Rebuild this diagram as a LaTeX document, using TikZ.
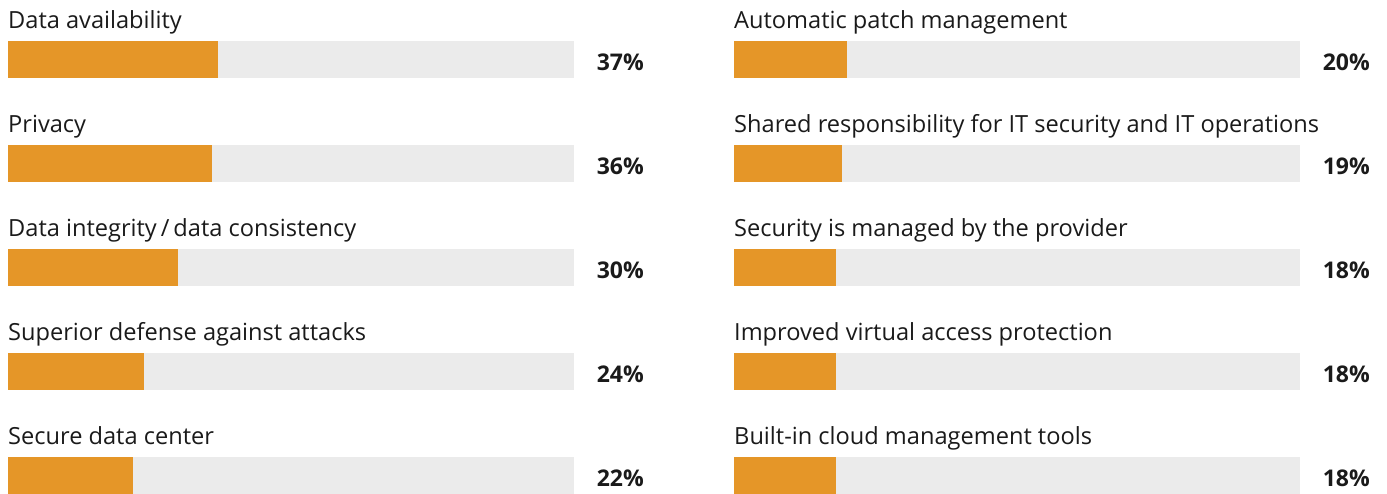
\documentclass[tikz,border=0pt]{standalone}
\usepackage{fontspec}
\setmainfont{Open Sans}
\definecolor{barfill}{HTML}{E59628}
\definecolor{track}{HTML}{EBEBEB}
\definecolor{ink}{HTML}{1A1A1A}
\begin{document}
\begin{tikzpicture}[x=1pt,y=-1pt,
  itemlabel/.style={anchor=base west, inner sep=0pt, text=ink,
    font=\fontsize{23.6}{26}\selectfont},
  pctlabel/.style={anchor=base east, inner sep=0pt, text=ink,
    font=\fontsize{23}{26}\selectfont\bfseries},
  trackbar/.style={fill=track},
  valuebar/.style={fill=barfill}]
\useasboundingbox (0,0) rectangle (1387,493);
% left column: bars start at x=8, percentages end at x=644
\foreach \i/\lab/\v in {0/{Data availability}/37, 1/{Privacy}/36,
    2/{Data integrity\,/\,data consistency}/30,
    3/{Superior defense against attacks}/24, 4/{Secure data center}/22}{
  \pgfmathsetmacro{\yb}{28+104*\i}
  \pgfmathsetmacro{\yt}{41+104*\i}
  \pgfmathsetmacro{\yp}{70+104*\i}
  \node[itemlabel] (Llab\i) at (8,\yb) {\lab};
  \fill[trackbar] (8,\yt) rectangle ++(566,37);
  \fill[valuebar] (8,\yt) rectangle ++(5.67*\v,37);
  \node[pctlabel] (Lpct\i) at (644,\yp) {\v\%};
}
% right column: bars start at x=734, percentages end at x=1370
\foreach \i/\lab/\v in {0/{Automatic patch management}/20,
    1/{Shared responsibility for IT security and IT operations}/19,
    2/{Security is managed by the provider}/18,
    3/{Improved virtual access protection}/18,
    4/{Built-in cloud management tools}/18}{
  \pgfmathsetmacro{\yb}{28+104*\i}
  \pgfmathsetmacro{\yt}{41+104*\i}
  \pgfmathsetmacro{\yp}{70+104*\i}
  \node[itemlabel] (Rlab\i) at (734,\yb) {\lab};
  \fill[trackbar] (734,\yt) rectangle ++(566,37);
  \fill[valuebar] (734,\yt) rectangle ++(5.67*\v,37);
  \node[pctlabel] (Rpct\i) at (1370,\yp) {\v\%};
}
\end{tikzpicture}
\end{document}
